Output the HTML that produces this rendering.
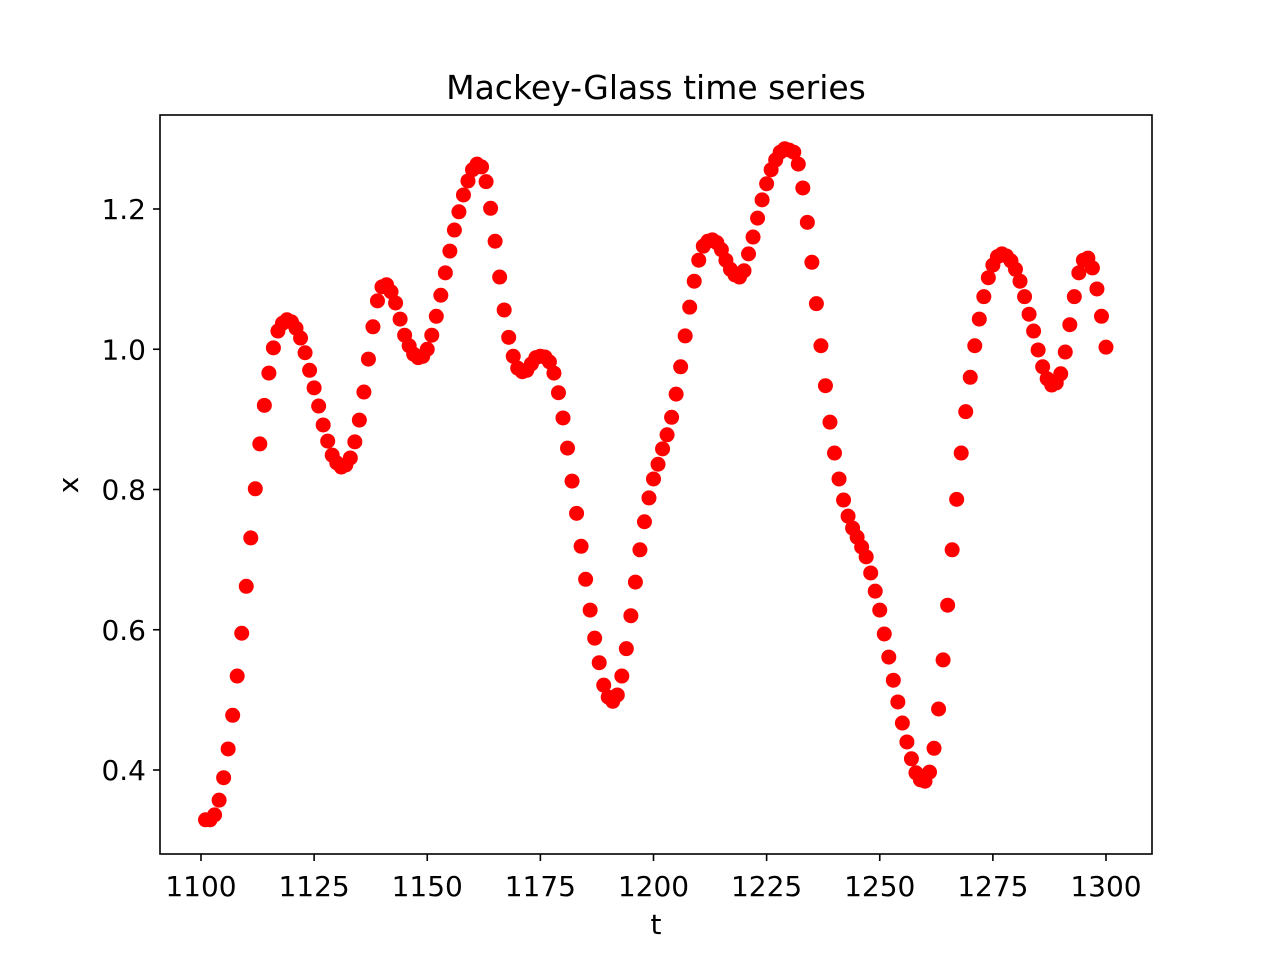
<!DOCTYPE html>
<html><head><meta charset="utf-8"><style>
html,body{margin:0;padding:0;background:#fff}
svg{display:block;font-family:"DejaVu Sans","Liberation Sans",sans-serif}
</style></head><body>
<svg id="chart" width="1280" height="960">
<text x="656" y="99" text-anchor="middle" font-size="33">Mackey-Glass time series</text>
<g id="marks"></g>
<rect x="160" y="115" width="992" height="739" fill="none" stroke="#000" stroke-width="1.6"/>
<g id="xticks"></g>
<g id="yticks"></g>
<text x="656" y="934" text-anchor="middle" font-size="28">t</text>
<text transform="translate(78,485) rotate(-90)" text-anchor="middle" font-size="28">x</text>
</svg>
<script>
const tStart = 1101;
const xValues = [0.329,0.329,0.336,0.357,0.389,0.430,0.478,0.534,0.595,0.662,0.731,0.801,0.865,0.920,0.966,1.002,1.026,1.037,1.042,1.039,
1.030,1.016,0.995,0.970,0.945,0.919,0.892,0.869,0.849,0.838,0.832,0.835,0.845,0.868,0.899,0.939,0.986,1.032,1.069,1.089,
1.092,1.082,1.066,1.043,1.020,1.005,0.993,0.988,0.990,1.000,1.020,1.047,1.077,1.109,1.140,1.170,1.196,1.220,1.240,1.256,
1.264,1.260,1.239,1.201,1.154,1.103,1.056,1.017,0.990,0.973,0.968,0.970,0.979,0.988,0.990,0.989,0.982,0.966,0.938,0.902,
0.859,0.812,0.766,0.719,0.672,0.628,0.588,0.553,0.521,0.504,0.498,0.507,0.534,0.573,0.620,0.668,0.714,0.754,0.788,0.815,
0.836,0.858,0.878,0.903,0.936,0.975,1.019,1.060,1.097,1.127,1.147,1.154,1.156,1.152,1.142,1.127,1.114,1.106,1.103,1.112,
1.136,1.160,1.187,1.213,1.236,1.256,1.270,1.281,1.286,1.284,1.281,1.264,1.230,1.181,1.124,1.065,1.005,0.948,0.896,0.852,
0.815,0.785,0.762,0.745,0.732,0.718,0.704,0.681,0.655,0.628,0.594,0.561,0.528,0.497,0.467,0.440,0.416,0.396,0.386,0.384,
0.397,0.431,0.487,0.557,0.635,0.714,0.786,0.852,0.911,0.960,1.005,1.043,1.075,1.102,1.120,1.132,1.136,1.133,1.126,1.114,
1.097,1.075,1.050,1.026,0.999,0.975,0.958,0.949,0.952,0.965,0.996,1.035,1.075,1.109,1.127,1.130,1.116,1.086,1.047,1.003];
const xTickValues = [1100,1125,1150,1175,1200,1225,1250,1275,1300];
const yTickValues = [0.4,0.6,0.8,1.0,1.2];
const yTickLabels = ["0.4","0.6","0.8","1.0","1.2"];

const NS="http://www.w3.org/2000/svg";
function sx(t){return 201+(t-1100)*(1106-201)/200;}
function sy(v){return 209+(1.2-v)*701.25;}
const marks=document.getElementById('marks');
xValues.forEach((v,i)=>{
  const c=document.createElementNS(NS,'circle');
  c.setAttribute('cx',sx(tStart+i));c.setAttribute('cy',sy(v));c.setAttribute('r',7.5);c.setAttribute('fill','#ff0000');
  
  
  marks.appendChild(c);
});
const xg=document.getElementById('xticks');
xTickValues.forEach(t=>{
  const l=document.createElementNS(NS,'line');
  l.setAttribute('x1',sx(t));l.setAttribute('x2',sx(t));l.setAttribute('y1',854);l.setAttribute('y2',861);l.setAttribute('stroke','#000');l.setAttribute('stroke-width','1.6');
  
  
  xg.appendChild(l);
  const tx=document.createElementNS(NS,'text');
  tx.setAttribute('x',sx(t));tx.setAttribute('y',896);tx.setAttribute('text-anchor','middle');tx.setAttribute('font-size','28');
  tx.textContent=String(t);
  
  
  xg.appendChild(tx);
});
const yg=document.getElementById('yticks');
yTickValues.forEach((v,i)=>{
  const l=document.createElementNS(NS,'line');
  l.setAttribute('x1',153);l.setAttribute('x2',160);l.setAttribute('y1',sy(v));l.setAttribute('y2',sy(v));l.setAttribute('stroke','#000');l.setAttribute('stroke-width','1.6');
  
  
  yg.appendChild(l);
  const tx=document.createElementNS(NS,'text');
  tx.setAttribute('x',146);tx.setAttribute('y',sy(v)+10);tx.setAttribute('text-anchor','end');tx.setAttribute('font-size','28');
  tx.textContent=yTickLabels[i];
  
  
  yg.appendChild(tx);
});
</script>
</body></html>
